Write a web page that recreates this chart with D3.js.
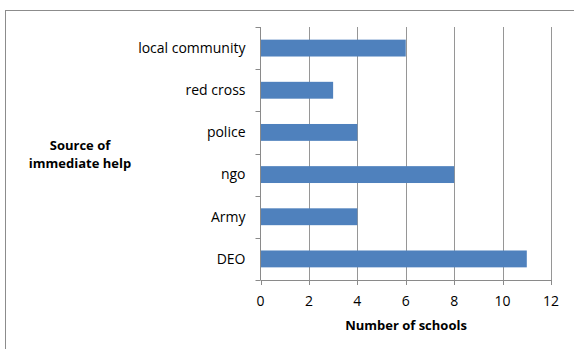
<!DOCTYPE html>
<html><head><meta charset="utf-8">
<script src="https://cdn.jsdelivr.net/npm/d3@7"></script>
<style>body{margin:0;background:#fff}svg{display:block}</style>
</head><body>
<svg id="c" width="574" height="349"></svg>
<script>
const categories = ["local community","red cross","police","ngo","Army","DEO"];
const values = [6,3,4,8,4,11];
const xTicks = [0,2,4,6,8,10,12];
const yTitle = ["Source of","immediate help"];
const xTitle = "Number of schools";

const svg = d3.select("#c");
const font = "'Open Sans', 'Noto Sans', sans-serif";
svg.append("rect").attr("x",5.5).attr("y",10.5).attr("width",600).attr("height",400)
  .attr("fill","none").attr("stroke","#8c8c8c");

const L=260.5,R=551,T=27,B=280;
const x=d3.scaleLinear().domain([0,12]).range([L,R]);
const y=d3.scaleBand().domain(categories).range([T,B]).paddingInner(0.6).paddingOuter(0.3);
const yb=d3.scaleBand().domain(categories).range([T,B]);

// gridlines
svg.append("g").selectAll("line").data(xTicks.slice(1)).join("line")
  .attr("x1",d=>Math.round(x(d))+0.5).attr("x2",d=>Math.round(x(d))+0.5)
  .attr("y1",T).attr("y2",B).attr("stroke","#969696").attr("stroke-width",1);

// bars
svg.append("g").selectAll("rect").data(categories).join("rect")
  .attr("x",x(0)).attr("y",d=>y(d)).attr("height",y.bandwidth())
  .attr("width",(d,i)=>x(values[i])-x(0)).attr("fill","#4F81BD");

// y axis
const ya=svg.append("g");
ya.append("line").attr("x1",L).attr("x2",L).attr("y1",T).attr("y2",B).attr("stroke","#8a8a8a");
ya.selectAll("line.t").data(categories.concat(["_end"])).join("line").attr("class","t")
  .attr("x1",L-5).attr("x2",L).attr("y1",(d,i)=>Math.round(T+i*yb.bandwidth())+0.5)
  .attr("y2",(d,i)=>Math.round(T+i*yb.bandwidth())+0.5).attr("stroke","#8a8a8a");
ya.selectAll("text").data(categories).join("text")
  .attr("x",L-15).attr("y",d=>yb(d)+yb.bandwidth()/2).attr("dy","0.35em")
  .attr("text-anchor","end").attr("font-family",font).attr("font-size",14).attr("fill","#000")
  .text(d=>d);

// x axis
const xa=svg.append("g");
xa.append("line").attr("x1",L).attr("x2",R).attr("y1",B+0.5).attr("y2",B+0.5).attr("stroke","#8a8a8a");
xa.selectAll("line.t").data(xTicks).join("line").attr("class","t")
  .attr("x1",d=>Math.round(x(d))+0.5).attr("x2",d=>Math.round(x(d))+0.5)
  .attr("y1",B).attr("y2",B+5).attr("stroke","#8a8a8a");
xa.selectAll("text").data(xTicks).join("text")
  .attr("x",d=>x(d)).attr("y",301).attr("dy","0.35em").attr("text-anchor","middle")
  .attr("font-family",font).attr("font-size",14).attr("fill","#000").text(d=>d);

svg.append("text").attr("x",406).attr("y",325).attr("dy","0.35em").attr("text-anchor","middle")
  .attr("font-family",font).attr("font-size",13).attr("font-weight","bold").text(xTitle);
svg.append("text").attr("text-anchor","middle").attr("font-family",font).attr("font-size",13)
  .attr("font-weight","bold").selectAll("tspan").data(yTitle).join("tspan")
  .attr("x",80).attr("y",(d,i)=>145+i*18).attr("dy","0.35em").text(d=>d);
</script>
</body></html>
